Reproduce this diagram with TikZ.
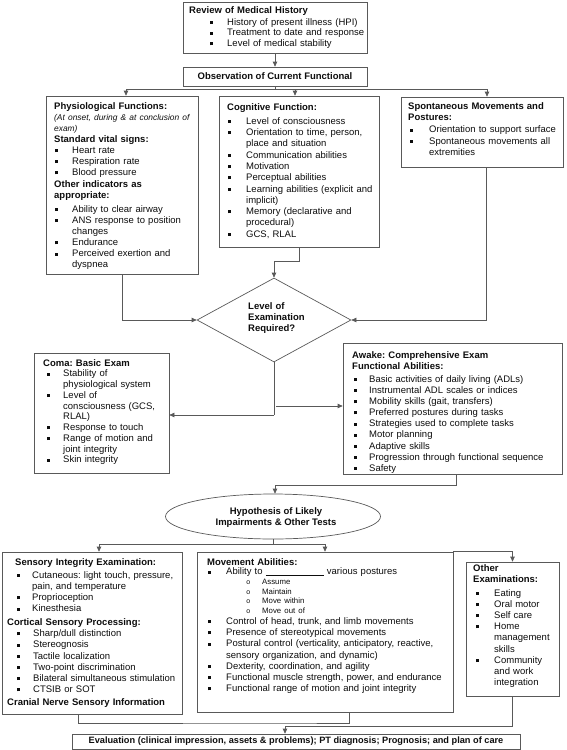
\documentclass[tikz,border=0pt]{standalone}
\usepackage{fontspec}
\setmainfont{Liberation Sans}
\usetikzlibrary{arrows.meta,shapes.geometric}
\definecolor{linec}{gray}{0.35}
\definecolor{textc}{gray}{0.05}
\newcommand\bsq{\rule[1.3pt]{3pt}{3pt}}
\newenvironment{sql}[2]{\begin{list}{\bsq}{\setlength\leftmargin{#1}\setlength\labelwidth{3pt}\setlength\labelsep{#2}\setlength\topsep{0pt}\setlength\partopsep{0pt}\setlength\itemsep{0pt}\setlength\parsep{0pt}\setlength\itemindent{0pt}\setlength\listparindent{0pt}\setlength\rightmargin{0pt}}}{\end{list}}
\newenvironment{oli}[2]{\begin{list}{{\fontsize{7}{9}\selectfont o}}{\setlength\leftmargin{#1}\setlength\labelwidth{4pt}\setlength\labelsep{#2}\setlength\topsep{0pt}\setlength\partopsep{0pt}\setlength\itemsep{0pt}\setlength\parsep{0pt}\setlength\itemindent{0pt}\setlength\listparindent{0pt}\setlength\rightmargin{0pt}}}{\end{list}}
\tikzset{
  box/.style={draw=linec, line width=0.7pt, rectangle, inner sep=0pt, text=textc},
  txt/.style={anchor=base west, inner sep=0pt, text width=#1, align=left, font=\fontsize{9.5}{11.1}\selectfont, text=textc},
  arr/.style={draw=linec, line width=0.7pt, -{Triangle[length=5pt,width=4.5pt]}},
  ln/.style={draw=linec, line width=0.7pt},
}
\frenchspacing
\begin{document}
\begin{tikzpicture}[x=1pt,y=-1pt]
\useasboundingbox (0,0) rectangle (566,750);
% boxes
\node[box, minimum width=184pt, minimum height=51pt] (review) at (275,27.5) {};
\node[box, minimum width=184pt, minimum height=19pt, font=\bfseries\fontsize{9.5}{11}\selectfont] (obs) at (275,76.5) {Observation of Current Functional};
\node[box, minimum width=152pt, minimum height=178pt] (phys) at (122,185) {};
\node[box, minimum width=160pt, minimum height=151pt] (cog) at (299,171.5) {};
\node[box, minimum width=162pt, minimum height=70pt] (spont) at (482,132) {};
\node[draw=linec, line width=0.7pt, diamond, inner sep=0pt, minimum width=154pt, minimum height=84pt] (dia) at (274,320) {};
\node[box, minimum width=135pt, minimum height=120pt] (coma) at (101.5,413) {};
\node[box, minimum width=219pt, minimum height=131pt] (awake) at (452.5,408.5) {};
\node[draw=linec, line width=0.7pt, ellipse, inner sep=0pt, minimum width=215pt, minimum height=45pt] (ell) at (273,516.5) {};
\node[box, minimum width=180pt, minimum height=162pt] (sens) at (92,633) {};
\node[box, minimum width=256pt, minimum height=160pt] (move) at (325,632) {};
\node[box, minimum width=93pt, minimum height=134pt] (other) at (512.5,629) {};
\node[box, minimum width=448pt, minimum height=15pt, font=\bfseries\fontsize{9.2}{11}\selectfont] (eval) at (296,741.5) {Evaluation (clinical impression, assets \& problems); PT diagnosis; Prognosis; and plan of care};

% texts
\node[txt=175pt, font=\fontsize{9.5}{10.8}\selectfont] (trev) at (189,13.2) {\textbf{Review of Medical History}\par\vspace{1pt}%
\begin{sql}{38pt}{14pt}\item History of present illness (HPI)\item Treatment to date and response\item Level of medical stability\end{sql}};

\node[txt=148pt] (tphys) at (54,109.2) {\textbf{Physiological Functions:}\par
{\fontsize{8.4}{11}\selectfont\itshape (At onset, during \& at conclusion of\newline exam)\par}
\textbf{Standard vital signs:}\par
\begin{sql}{18pt}{14pt}\item Heart rate\item Respiration rate\item Blood pressure\end{sql}
\vspace{1pt}\textbf{Other indicators as\newline appropriate:}\par\vspace{2.5pt}
\begin{sql}{18pt}{14pt}\item Ability to clear airway\item ANS response to position\newline changes\item Endurance\item Perceived exertion and\newline dyspnea\end{sql}};

\node[txt=155pt, font=\fontsize{9.5}{11.3}\selectfont] (tcog) at (227,110.2) {\textbf{Cognitive Function:}\par\vspace{2.7pt}
\begin{sql}{19pt}{15pt}\item Level of consciousness\item Orientation to time, person,\newline place and situation\item Communication abilities\item Motivation\item Perceptual abilities\item Learning abilities (explicit and\newline implicit)\item Memory (declarative and\newline procedural)\item GCS, RLAL\end{sql}};

\node[txt=157pt] (tspont) at (408,109.2) {\textbf{Spontaneous Movements and\newline Postures:}\par\vspace{1.5pt}
\begin{sql}{21pt}{16pt}\item Orientation to support surface\item Spontaneous movements all\newline extremities\end{sql}};

\node[txt=90pt, font=\fontsize{9.5}{11}\selectfont] (tdia) at (248,309.2) {\textbf{Level of\newline Examination\newline Required?}};

\node[txt=128pt, font=\fontsize{9.5}{10.75}\selectfont] (tcoma) at (43,366.2) {\textbf{Coma: Basic Exam}\par
\begin{sql}{20pt}{13pt}\item Stability of\newline physiological system\item Level of\newline consciousness (GCS,\newline RLAL)\item Response to touch\item Range of motion and\newline joint integrity\item Skin integrity\end{sql}};

\node[txt=212pt, font=\fontsize{9.5}{11.1}\selectfont] (tawake) at (352,358.2) {\textbf{Awake: Comprehensive Exam\newline Functional Abilities:}\par\vspace{2pt}
\begin{sql}{17pt}{12pt}\item Basic activities of daily living (ADLs)\item Instrumental ADL scales or indices\item Mobility skills (gait, transfers)\item Preferred postures during tasks\item Strategies used to complete tasks\item Motor planning\item Adaptive skills\item Progression through functional sequence\item Safety\end{sql}};

\node[anchor=center, inner sep=0pt, align=center, font=\bfseries\fontsize{9.5}{11}\selectfont, text=textc] (tell) at (276,517.5) {Hypothesis of Likely\\Impairments \& Other Tests};

\node[txt=178pt, font=\fontsize{9.5}{11.2}\selectfont] (tsens) at (7,565.2) {\hspace*{8pt}\textbf{Sensory Integrity Examination:}\par\vspace{1.8pt}
\begin{sql}{25pt}{12pt}\item Cutaneous: light touch, pressure,\newline pain, and temperature\item Proprioception\item Kinesthesia\end{sql}
\vspace{2.5pt}\textbf{Cortical Sensory Processing:}\par
\begin{sql}{26pt}{13pt}\item Sharp/dull distinction\item Stereognosis\item Tactile localization\item Two-point discrimination\item Bilateral simultaneous stimulation\item CTSIB or SOT\end{sql}
\vspace{1.8pt}\textbf{Cranial Nerve Sensory Information}};

\node[txt=245pt, font=\fontsize{9.5}{11.2}\selectfont] (tmove) at (207,565.2) {\textbf{Movement Abilities:}\par
\begin{sql}{19pt}{15pt}\item Ability to \rule[-1pt]{58pt}{0.5pt} various postures
{\fontsize{7.8}{9.6}\selectfont\begin{oli}{36pt}{12pt}\item Assume\item Maintain\item Move within\item Move out of\end{oli}}
\item Control of head, trunk, and limb movements\item Presence of stereotypical movements\item Postural control (verticality, anticipatory, reactive,\newline sensory organization, and dynamic)\item Dexterity, coordination, and agility\item Functional muscle strength, power, and endurance\item Functional range of motion and joint integrity\end{sql}};

\node[txt=85pt, font=\fontsize{9.5}{11.2}\selectfont] (tother) at (473,571.2) {\textbf{Other\newline Examinations:}\par\vspace{2.5pt}
\begin{sql}{21pt}{15pt}\item Eating\item Oral motor\item Self care\item Home\newline management\newline skills\item Community\newline and work\newline integration\end{sql}};

% connectors
\draw[arr] (review.south) -- (obs.north);
\coordinate (j1) at (275,89);
\draw[ln] (obs.south) -- (j1);
\draw[arr] (j1) -| ([xshift=4pt]phys.north);
\draw[arr] (j1) -| ([xshift=-4pt]cog.north);
\draw[arr] (j1) -| ([xshift=5pt]spont.north);
\draw[arr] (phys.south) |- (dia.west);
\draw[arr] (cog.south) -- ++(0,14) -| (dia.north);
\draw[arr] ([xshift=4pt]spont.south) |- (dia.east);
\coordinate (j2) at (276,415);
\coordinate (j2b) at (276,406);
\draw[ln] (dia.south) -- (dia.south |- j2);
\draw[arr] (dia.south |- j2) -- (coma.east |- j2);
\draw[arr] (j2b) -- (awake.west |- j2b);
\draw[arr] ([xshift=3.5pt]awake.south) -- ++(0,11) -| ([xshift=2pt]ell.north);
\coordinate (j3) at (273,544);
\draw[ln] (ell.south) -- (j3);
\draw[arr] (j3) -| ([xshift=7pt]sens.north);
\draw[arr] (j3) -| (move.north);
\draw[arr] (move.north east) -| (other.north);
\coordinate (j4) at (285,723);
\draw[ln] ([xshift=-14pt]sens.south) |- (j4) -| ([xshift=24pt]move.south);
\coordinate (j5) at (285,726);
\draw[ln] (other.south) |- (j5);
\draw[arr] (j5) -- (eval.north -| j5);
\end{tikzpicture}
\end{document}
